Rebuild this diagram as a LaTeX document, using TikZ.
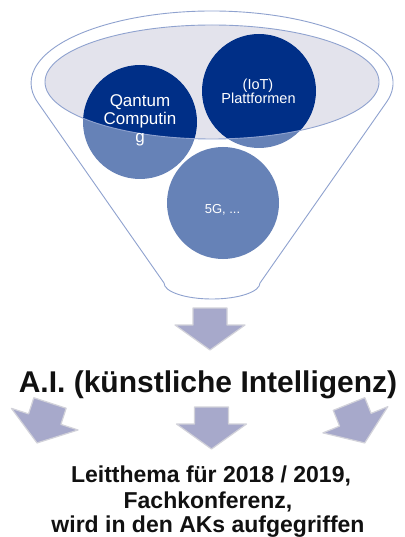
\documentclass[tikz,border=0pt]{standalone}
\usepackage{fontspec}
\setmainfont{Liberation Sans}

\definecolor{navy}{HTML}{002F87}
\definecolor{mouthfill}{HTML}{E3E3EC}
\definecolor{rimblue}{HTML}{8FA2CF}
\definecolor{arrowfill}{HTML}{A7A9CB}
\definecolor{arrowedge}{HTML}{D2D2DA}
\definecolor{ink}{HTML}{111111}

% outline of the funnel: top rim, the two sides, rounded neck
\newcommand\funnelpath{(386.4,102.3) arc[start angle=15.55, end angle=-195.55, x radius=181, y radius=72]
  -- (164,283) arc[start angle=180, end angle=0, x radius=48, y radius=16] -- cycle}
\newcommand\mouthpath{(212,82) ellipse[x radius=167, y radius=57]}

\tikzset{
  pics/blockarrow/.style={code={
    \path[bloc] (-17,0) -- (17,0) -- (17,17) -- (35,17) -- (0,42) -- (-35,17) -- (-17,17) -- cycle;
  }},
  bloc/.style={fill=arrowfill, draw=arrowedge, line width=1.2, line join=round},
  funnelline/.style={draw=rimblue, line width=0.9},
  topic/.style={circle, fill=navy, inner sep=0},
  ctext/.style={text=white, inner sep=0, anchor=base},
  dtext/.style={text=ink, inner sep=0, anchor=base, font=\bfseries\fontsize{23}{25}\selectfont},
}

\begin{document}
\begin{tikzpicture}[x=1pt, y=-1pt]
\useasboundingbox[fill=white] (0,0) rectangle (404,537);

% funnel body and its mouth
\fill[white] \funnelpath;
\fill[mouthfill] \mouthpath;

% topics dropped into the funnel
\node[topic, minimum size=114] (quantum) at (140,122) {};
\node[topic, minimum size=114] (iot) at (259,91) {};
\node[topic, minimum size=112] (fiveg) at (223,203) {};

% the funnel wall veils whatever lies below the rim
\fill[white, opacity=0.4, even odd rule] \funnelpath \mouthpath;
\draw[funnelline] \funnelpath;
\draw[funnelline] \mouthpath;

% topic labels
\begin{scope}[font=\fontsize{17}{18}\selectfont]
\node[ctext] (q1) at (140,107) {Qantum};
\node[ctext] (q2) at (140,125) {Computin};
\node[ctext] (q3) at (140,143) {g};
\end{scope}
\begin{scope}[font=\fontsize{14.5}{15}\selectfont]
\node[ctext] (i1) at (258,90) {(IoT)};
\node[ctext] (i2) at (258.5,104) {Plattformen};
\end{scope}
\node[ctext, font=\fontsize{13}{14}\selectfont] (g1) at (222.5,213) {5G, ...};

% arrow out of the funnel
\pic at (210,308) {blockarrow};

% result
\node[text=ink, inner sep=0, anchor=base, font=\bfseries\fontsize{30}{32}\selectfont] (ai) at (208,392)
  {A.I. (künstliche Intelligenz)};

% three arrows fanning out
\pic[rotate=-18] at (50,403) {blockarrow};
\pic at (211.5,407) {blockarrow};
\pic[rotate=22] at (349,404) {blockarrow};

% outcome
\node[dtext] (l1) at (211,482) {Leitthema für 2018 / 2019,};
\node[dtext] (l2) at (208,508) {Fachkonferenz,};
\node[dtext] (l3) at (208,532) {wird in den AKs aufgegriffen};
\end{tikzpicture}
\end{document}
